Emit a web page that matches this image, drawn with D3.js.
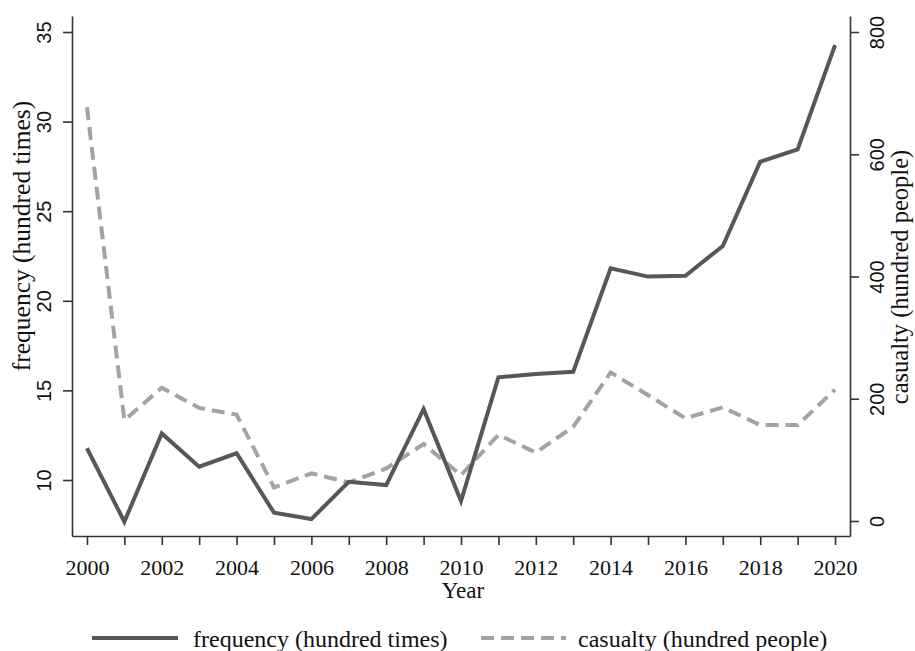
<!DOCTYPE html>
<html>
<head>
<meta charset="utf-8">
<script src="https://cdn.jsdelivr.net/npm/d3@7"></script>
<style>
  html, body { margin: 0; padding: 0; background: #fff; }
  svg { display: block; }
  .serif { font-family: "Liberation Serif", "Times New Roman", serif; fill: #111; }
  .sans { font-family: "Liberation Sans", Arial, sans-serif; fill: #111; }
</style>
</head>
<body>
<svg id="chart" width="915" height="651"></svg>
<script>
// Annual series, 2000-2020
const years = [2000, 2001, 2002, 2003, 2004, 2005, 2006, 2007, 2008, 2009, 2010,
               2011, 2012, 2013, 2014, 2015, 2016, 2017, 2018, 2019, 2020];
const frequency = [11.77, 7.67, 12.6, 10.74, 11.49, 8.18, 7.82, 9.9, 9.72, 13.95, 8.83,
                   15.73, 15.92, 16.04, 21.81, 21.35, 21.4, 23.06, 27.76, 28.45, 34.27];
const casualty = [677, 165, 218, 185, 174, 55, 78, 63, 86, 126, 75,
                  141, 112, 154, 243, 206, 168, 186, 157, 157, 215];

const xTickLabels = [2000, 2002, 2004, 2006, 2008, 2010, 2012, 2014, 2016, 2018, 2020];
const leftTicks = [10, 15, 20, 25, 30, 35];
const rightTicks = [0, 200, 400, 600, 800];

const seriesNames = ["frequency (hundred times)", "casualty (hundred people)"];
const axisTitles = { x: "Year", left: "frequency (hundred times)", right: "casualty (hundred people)" };

// plot frame
const plot = { left: 72, right: 850, top: 16, bottom: 536 };
const svg = d3.select("#chart");

const x = d3.scaleLinear().domain([1999.6, 2020.4]).range([plot.left, plot.right]);
const yL = d3.scaleLinear().domain([6.875, 35.893]).range([plot.bottom, plot.top]);
const yR = d3.scaleLinear().domain([-24.54, 826.2]).range([plot.bottom, plot.top]);

const axisColor = "#333";
const tickLen = 9;

function styleAxis(g) {
  g.select(".domain").attr("stroke", axisColor).attr("stroke-width", 1.6);
  g.selectAll(".tick line").attr("stroke", axisColor).attr("stroke-width", 1.6);
}

// bottom axis: a tick each year, labels every second year
const xAxisG = svg.append("g")
  .attr("transform", `translate(0,${plot.bottom})`)
  .call(d3.axisBottom(x).tickValues(years).tickSize(tickLen).tickSizeOuter(0)
        .tickFormat(d => xTickLabels.includes(d) ? String(d) : ""));
styleAxis(xAxisG);
xAxisG.selectAll(".tick text")
  .attr("class", "serif")
  .attr("font-size", 22)
  .attr("y", 0).attr("dy", null)
  .attr("transform", "translate(0,39)")
  .attr("fill", "#111");

// left axis
const yLAxisG = svg.append("g")
  .attr("transform", `translate(${plot.left},0)`)
  .call(d3.axisLeft(yL).tickValues(leftTicks).tickSize(tickLen).tickSizeOuter(0).tickFormat(d3.format("d")));
styleAxis(yLAxisG);
yLAxisG.selectAll(".tick text")
  .attr("class", "sans")
  .attr("font-size", 20)
  .attr("x", null).attr("dy", null)
  .attr("text-anchor", "middle")
  .attr("dominant-baseline", "central")
  .attr("transform", "translate(-28,0) rotate(-90)")
  .attr("fill", "#111");

// right axis
const yRAxisG = svg.append("g")
  .attr("transform", `translate(${plot.right},0)`)
  .call(d3.axisRight(yR).tickValues(rightTicks).tickSize(tickLen).tickSizeOuter(0).tickFormat(d3.format("d")));
styleAxis(yRAxisG);
yRAxisG.selectAll(".tick text")
  .attr("class", "sans")
  .attr("font-size", 20)
  .attr("x", null).attr("dy", null)
  .attr("text-anchor", "middle")
  .attr("dominant-baseline", "central")
  .attr("transform", "translate(27,0) rotate(-90)")
  .attr("fill", "#111");

// axis titles
svg.append("text").attr("class", "serif").attr("font-size", 23)
  .attr("text-anchor", "middle")
  .attr("x", (plot.left + plot.right) / 2 + 2).attr("y", 598)
  .text(axisTitles.x);

svg.append("text").attr("class", "serif").attr("font-size", 25.5)
  .attr("text-anchor", "middle").attr("dominant-baseline", "central")
  .attr("transform", "translate(21,236) rotate(-90)")
  .text(axisTitles.left);

svg.append("text").attr("class", "serif").attr("font-size", 24.5)
  .attr("text-anchor", "middle").attr("dominant-baseline", "central")
  .attr("transform", "translate(899,277) rotate(-90)")
  .text(axisTitles.right);

// series lines
const solidColor = "#575757";
const dashColor = "#a3a3a3";
const dashPattern = "13,7";

const lineL = d3.line().x((d, i) => x(years[i])).y(d => yL(d)).curve(d3.curveLinear);
const lineR = d3.line().x((d, i) => x(years[i])).y(d => yR(d)).curve(d3.curveLinear);

svg.append("path").datum(casualty)
  .attr("d", lineR)
  .attr("fill", "none").attr("stroke", dashColor).attr("stroke-width", 4)
  .attr("stroke-dasharray", dashPattern).attr("stroke-linejoin", "miter");

svg.append("path").datum(frequency)
  .attr("d", lineL)
  .attr("fill", "none").attr("stroke", solidColor).attr("stroke-width", 4)
  .attr("stroke-linejoin", "miter");

// legend
const legendY = 638;
const legend = [
  { name: seriesNames[0], x0: 92, x1: 178, tx: 193, color: solidColor, dash: null },
  { name: seriesNames[1], x0: 481, x1: 566, tx: 578, color: dashColor, dash: dashPattern }
];
legend.forEach(l => {
  svg.append("line")
    .attr("x1", l.x0).attr("x2", l.x1).attr("y1", legendY).attr("y2", legendY)
    .attr("stroke", l.color).attr("stroke-width", 4)
    .attr("stroke-dasharray", l.dash);
  svg.append("text").attr("class", "serif").attr("font-size", 24)
    .attr("x", l.tx).attr("y", legendY + 9)
    .text(l.name);
});
</script>
</body>
</html>
